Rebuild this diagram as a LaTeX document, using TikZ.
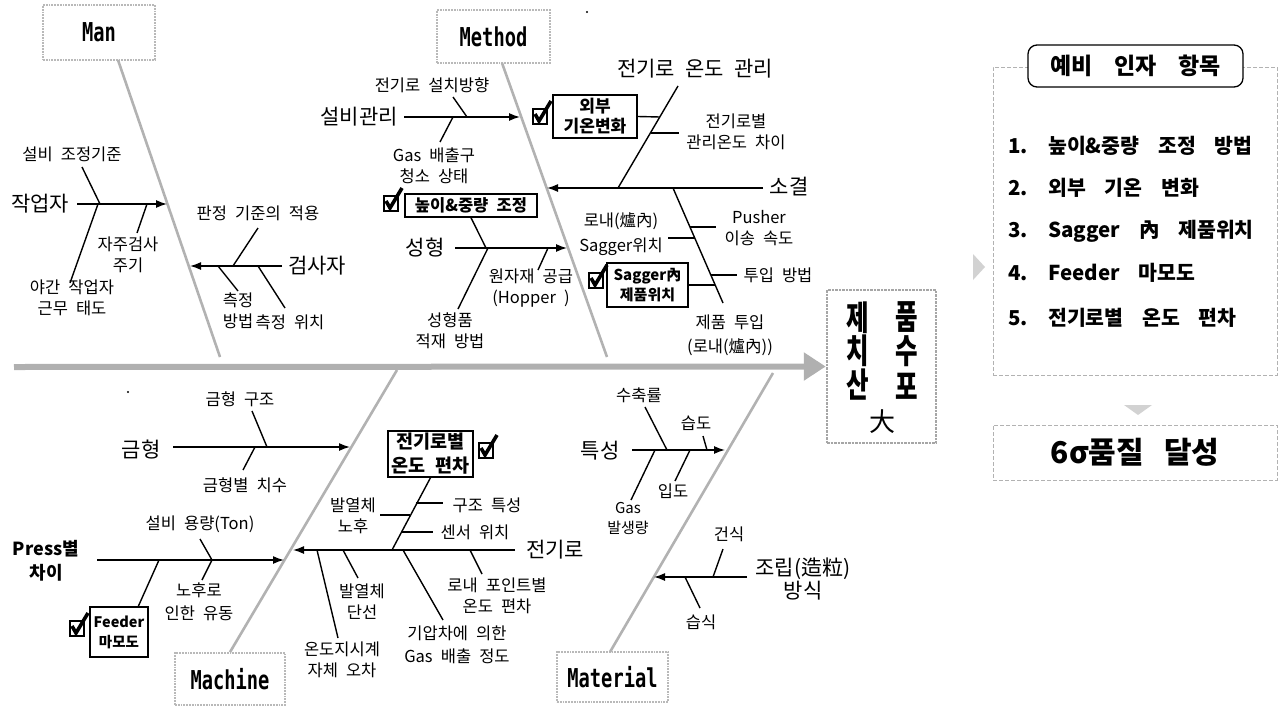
\documentclass[tikz,border=0pt]{standalone}
\usepackage{fontspec}
\setmainfont{Noto Sans CJK KR}[WordSpace=2.2]
\newfontfamily\catfont{DejaVu Sans Mono}[FakeStretch=0.72]
\newfontfamily\headfont{Noto Sans CJK KR}[FakeStretch=0.72]
\newfontfamily\panelfont{Noto Sans CJK KR}[WordSpace=4]
\usetikzlibrary{arrows.meta}
\tikzset{
  lbl/.style={inner sep=0pt, align=center, font=\fontsize{16.5}{21}\selectfont},
  big/.style={inner sep=0pt, align=center, font=\fontsize{21}{23}\selectfont},
  bxl/.style={draw, line width=1.4pt, inner sep=1pt, align=center, font=\fontsize{16.5}{20}\selectfont\bfseries},
  cat/.style={draw=gray!55, line width=1.8pt, densely dotted, inner sep=0pt, font=\catfont\bfseries\fontsize{26}{28}\selectfont},
  bone/.style={draw=gray!60, line width=2.6pt},
  spine/.style={draw=gray!62, line width=6pt, -{Triangle[length=22pt,width=27pt]}},
  sub/.style={draw=black, line width=1.4pt},
  arr/.style={draw=black, line width=1.4pt, -{Latex[length=11pt,width=8pt]}},
  headch/.style={inner sep=0pt, font=\headfont\bfseries\fontsize{34}{36}\selectfont},
  pbox/.style={draw=gray!60, line width=1pt, dash pattern=on 4pt off 2pt, inner sep=0pt},
  item/.style={inner sep=0pt, anchor=west, font=\panelfont\bfseries\fontsize{20.5}{22}\selectfont},
  chk/.pic={
    \draw[line width=2.2pt] (-7,-7) rectangle (7,8);
    \draw[line width=3.6pt] (-5,-2) -- (-1,5) -- (11,-15);
  }
}
\begin{document}
\begin{tikzpicture}[x=1pt,y=-1pt]
\useasboundingbox (0,0) rectangle (1281,707);

% ---------- spine and head ----------
\node[draw=gray!70, line width=2.5pt, densely dotted, minimum width=109pt, minimum height=153pt, inner sep=0pt] (head) at (881.5,366.5) {};
\coordinate (sp0) at (14,367);
\draw[spine] (sp0) -- (head.west);
\node[headch] (hA) at (858,318) {제};
\node[headch] (hB) at (907,317) {품};
\node[headch] (hC) at (858,351) {치};
\node[headch] (hD) at (907,351) {수};
\node[headch] (hE) at (858,385) {산};
\node[headch] (hF) at (907,386) {포};
\node[inner sep=0pt, font=\fontsize{26}{28}\selectfont] (hG) at (882,422) {大};

% ---------- Man ----------
\node[cat, minimum width=112pt, minimum height=55pt] (man) at (99,32.5) {Man};
\coordinate (manS) at (118,60);
\coordinate (manE) at (220,357);
\draw[bone] (manS) -- (manE);

\node[big] (w) at (40,204) {작업자};
\coordinate (wS) at (77,204);
\coordinate (wE) at (167,204);
\draw[arr] (wS) -- (wE);
\node[lbl] (w1) at (72,154) {설비 조정기준};
\coordinate (w1a) at (82,167); \coordinate (w1b) at (100,204);
\draw[sub] (w1a) -- (w1b);
\node[lbl] (w2) at (72,298) {야간 작업자\\근무 태도};
\coordinate (w2a) at (98,204); \coordinate (w2b) at (70,283);
\draw[sub] (w2a) -- (w2b);
\node[lbl] (w3) at (128,255) {자주검사\\주기};
\coordinate (w3a) at (147,204); \coordinate (w3b) at (137,233);
\draw[sub] (w3a) -- (w3b);

\node[big] (gs) at (317,266) {검사자};
\coordinate (gsS) at (282,266);
\coordinate (gsE) at (190,266);
\draw[arr] (gsS) -- (gsE);
\node[lbl] (gs1) at (258,213) {판정 기준의 적용};
\coordinate (gs1a) at (258,228); \coordinate (gs1b) at (233,266);
\draw[sub] (gs1a) -- (gs1b);
\node[lbl] (gs2) at (238,311) {측정\\방법};
\coordinate (gs2a) at (218,266); \coordinate (gs2b) at (238,291);
\draw[sub] (gs2a) -- (gs2b);
\node[lbl] (gs3) at (290,322) {측정 위치};
\coordinate (gs3a) at (258,266); \coordinate (gs3b) at (285,308);
\draw[sub] (gs3a) -- (gs3b);

% ---------- Method ----------
\node[cat, minimum width=113pt, minimum height=53pt] (meth) at (493.5,36.5) {Method};
\fill (587,12) circle (1.2);
\coordinate (methS) at (502,63);
\coordinate (methE) at (607,357);
\draw[bone] (methS) -- (methE);

\node[big] (sb) at (359,117) {설비관리};
\coordinate (sbS) at (404,117);
\coordinate (sbE) at (520,117);
\draw[arr] (sbS) -- (sbE);
\node[lbl] (sb1) at (432,85) {전기로 설치방향};
\coordinate (sb1a) at (453,97); \coordinate (sb1b) at (467,117);
\draw[sub] (sb1a) -- (sb1b);
\node[lbl] (sb2) at (434,166) {Gas 배출구\\청소 상태};
\coordinate (sb2a) at (453,117); \coordinate (sb2b) at (440,142);
\draw[sub] (sb2a) -- (sb2b);

\node[bxl, minimum width=132pt, minimum height=23pt] (hw) at (471,205.5) {높이\&중량 조정};
\pic at (391,203) {chk};
\node[big] (sh) at (425,248) {성형};
\coordinate (shS) at (455,248);
\coordinate (shE) at (567,248);
\draw[arr] (shS) -- (shE);
\coordinate (sh1b) at (486,248);
\draw[sub] (hw.south) -- (sh1b);
\node[lbl] (sh2) at (450,331) {성형품\\적재 방법};
\coordinate (sh2a) at (488,248); \coordinate (sh2b) at (458,309);
\draw[sub] (sh2a) -- (sh2b);
\node[lbl] (sh3) at (531,288.5) {원자재 공급\\(Hopper )};
\coordinate (sh3a) at (548,248); \coordinate (sh3b) at (538,270);
\draw[sub] (sh3a) -- (sh3b);

\node[bxl, minimum width=84pt, minimum height=43pt, font=\fontsize{17}{20}\selectfont\bfseries] (wb) at (595,116.5) {외부\\기온변화};
\pic at (540,116) {chk};
\node[big] (sg) at (789,187) {소결};
\coordinate (sgS) at (763,188);
\coordinate (sgE) at (547,188);
\draw[arr] (sgS) -- (sgE);
\node[big] (tm) at (695,69) {전기로 온도 관리};
\coordinate (tmA) at (678,86); \coordinate (tmB) at (618,188);
\draw[sub] (tmA) -- (tmB);
\coordinate (tm1b) at (660,117);
\draw[sub] (wb.east) -- (tm1b);
\node[lbl] (tm2) at (736,132) {전기로별\\관리온도 차이};
\coordinate (tm2a) at (651,133); \coordinate (tm2b) at (679,133);
\draw[sub] (tm2a) -- (tm2b);

\coordinate (stA) at (673,188); \coordinate (stB) at (723,303);
\draw[sub] (stA) -- (stB);
\node[lbl] (st1) at (759,228) {Pusher\\이송 속도};
\coordinate (st1a) at (690,227); \coordinate (st1b) at (716,227);
\draw[sub] (st1a) -- (st1b);
\node[lbl, font=\fontsize{16.5}{25}\selectfont] (st2) at (621,234.5) {로내(爐內)\\Sagger위치};
\coordinate (st2a) at (668,238); \coordinate (st2b) at (695,238);
\draw[sub] (st2a) -- (st2b);
\node[lbl] (st3) at (778,275) {투입 방법};
\coordinate (st3a) at (711,275); \coordinate (st3b) at (737,275);
\draw[sub] (st3a) -- (st3b);
\node[bxl, minimum width=81pt, minimum height=44pt, font=\fontsize{15}{20}\selectfont\bfseries] (sgb) at (647.5,285) {Sagger內\\제품위치};
\pic at (596,280) {chk};
\coordinate (sgbE) at (715,285);
\draw[sub] (sgb.east) -- (sgbE);
\node[lbl, font=\fontsize{16.5}{24}\selectfont] (st4) at (730,335) {제품 투입\\(로내(爐內))};

% ---------- Machine ----------
\node[cat, minimum width=110pt, minimum height=52pt] (mach) at (230,679) {Machine};
\fill (128,392) circle (1.2);
\coordinate (machE) at (397,370);
\draw[bone] (mach.north) -- (machE);

\node[big] (gh) at (141,450) {금형};
\coordinate (ghS) at (173,447);
\coordinate (ghE) at (350,447);
\draw[arr] (ghS) -- (ghE);
\node[lbl] (gh1) at (240,399) {금형 구조};
\coordinate (gh1a) at (252,411); \coordinate (gh1b) at (267,447);
\draw[sub] (gh1a) -- (gh1b);
\node[lbl] (gh2) at (245,485) {금형별 치수};
\coordinate (gh2a) at (255,447); \coordinate (gh2b) at (243,470);
\draw[sub] (gh2a) -- (gh2b);

\node[lbl, font=\fontsize{18}{24}\selectfont\bfseries] (pr) at (46,561) {Press별\\차이};
\coordinate (prS) at (97,560);
\coordinate (prE) at (284,560);
\draw[arr] (prS) -- (prE);
\node[lbl] (pr1) at (200,524) {설비 용량(Ton)};
\coordinate (pr1a) at (200,539); \coordinate (pr1b) at (212,560);
\draw[sub] (pr1a) -- (pr1b);
\node[lbl, font=\fontsize{16.5}{23}\selectfont] (pr2) at (199,601.5) {노후로\\인한 유동};
\coordinate (pr2a) at (212,560); \coordinate (pr2b) at (202,580);
\draw[sub] (pr2a) -- (pr2b);
\node[bxl, minimum width=58pt, minimum height=50pt, font=\fontsize{14.5}{20}\selectfont\bfseries] (fd) at (119,632) {Feeder\\마모도};
\pic at (77,628) {chk};
\coordinate (fda) at (159,560); \coordinate (fdb) at (138,607);
\draw[sub] (fda) -- (fdb);

\node[big] (jg) at (555,550) {전기로};
\coordinate (jgS) at (515,550);
\coordinate (jgE) at (293,550);
\draw[arr] (jgS) -- (jgE);
\node[bxl, minimum width=85pt, minimum height=46pt, font=\fontsize{18.5}{24}\selectfont\bfseries] (jb) at (430.5,454) {전기로별\\온도 편차};
\pic at (486,450) {chk};
\coordinate (jbE) at (392,550);
\draw[sub] (jb.south) -- (jbE);
\node[lbl] (j1) at (487,505) {구조 특성};
\coordinate (j1a) at (416,503); \coordinate (j1b) at (443,503);
\draw[sub] (j1a) -- (j1b);
\node[lbl] (j2) at (475,532) {센서 위치};
\coordinate (j2a) at (401,532); \coordinate (j2b) at (433,532);
\draw[sub] (j2a) -- (j2b);
\node[lbl] (j3) at (353,515.5) {발열체\\노후};
\coordinate (j3a) at (380,515); \coordinate (j3b) at (410,515);
\draw[sub] (j3a) -- (j3b);
\node[lbl] (j4) at (497,596) {로내 포인트별\\온도 편차};
\coordinate (j4a) at (470,550); \coordinate (j4b) at (482,574);
\draw[sub] (j4a) -- (j4b);
\node[lbl, font=\fontsize{16.5}{23}\selectfont] (j5) at (457,644.5) {기압차에 의한\\Gas 배출 정도};
\coordinate (j5a) at (403,550); \coordinate (j5b) at (443,620);
\draw[sub] (j5a) -- (j5b);
\node[lbl] (j6) at (362,602) {발열체\\단선};
\coordinate (j6a) at (343,550); \coordinate (j6b) at (358,578);
\draw[sub] (j6a) -- (j6b);
\node[lbl] (j7) at (342,660) {온도지시계\\자체 오차};
\coordinate (j7a) at (317,550); \coordinate (j7b) at (338,638);
\draw[sub] (j7a) -- (j7b);

% ---------- Material ----------
\node[cat, minimum width=111pt, minimum height=50pt] (mat) at (612.5,677) {Material};
\coordinate (matS) at (610,652);
\coordinate (matE) at (773,373);
\draw[bone] (matS) -- (matE);

\node[big] (ts) at (600,451) {특성};
\coordinate (tsS) at (632,450);
\coordinate (tsE) at (725,450);
\draw[arr] (tsS) -- (tsE);
\node[lbl] (ts1) at (639,395) {수축률};
\coordinate (ts1a) at (645,407); \coordinate (ts1b) at (667,450);
\draw[sub] (ts1a) -- (ts1b);
\node[lbl] (ts2) at (696,423) {습도};
\coordinate (ts2a) at (703,436); \coordinate (ts2b) at (707,450);
\draw[sub] (ts2a) -- (ts2b);
\node[lbl] (ts3) at (673,491) {입도};
\coordinate (ts3a) at (690,450); \coordinate (ts3b) at (675,481);
\draw[sub] (ts3a) -- (ts3b);
\node[lbl, font=\fontsize{15}{20}\selectfont] (ts4) at (628,518) {Gas\\발생량};
\coordinate (ts4a) at (655,450); \coordinate (ts4b) at (631,500);
\draw[sub] (ts4a) -- (ts4b);

\node[big] (jr) at (803,578.5) {조립(造粒)\\방식};
\coordinate (jrS) at (747,577);
\coordinate (jrE) at (654,577);
\draw[arr] (jrS) -- (jrE);
\node[lbl] (jr1) at (729,534) {건식};
\coordinate (jr1a) at (723,549); \coordinate (jr1b) at (713,577);
\draw[sub] (jr1a) -- (jr1b);
\node[lbl] (jr2) at (701,622) {습식};
\coordinate (jr2a) at (685,577); \coordinate (jr2b) at (700,608);
\draw[sub] (jr2a) -- (jr2b);

% ---------- right panel ----------
\node[pbox, minimum width=284pt, minimum height=308pt] (pan) at (1135,221) {};
\node[draw, line width=1.3pt, fill=white, rounded corners=9pt, minimum width=215pt, minimum height=42pt, inner sep=0pt, font=\bfseries\fontsize{23}{25}\selectfont] (ttl) at (1135.5,66) {예비\hspace{22pt}인자\hspace{22pt}항목};
\node[item] (it1) at (1008,146) {1. 높이\&중량 조정 방법};
\node[item] (it2) at (1008,188) {2. 외부 기온 변화};
\node[item] (it3) at (1008,231) {3. Sagger 內 제품위치};
\node[item] (it4) at (1008,273) {4. Feeder 마모도};
\node[item] (it5) at (1008,318) {5. 전기로별 온도 편차};
\fill[gray!35] (973,254) -- (985,267) -- (973,280) -- cycle;
\fill[gray!35] (1124,405) -- (1152,405) -- (1138,415) -- cycle;
\node[pbox, minimum width=284pt, minimum height=55pt, font=\bfseries\fontsize{30}{32}\selectfont] (goal) at (1135,452.5) {6σ품질\hspace{20pt}달성};
\end{tikzpicture}
\end{document}
